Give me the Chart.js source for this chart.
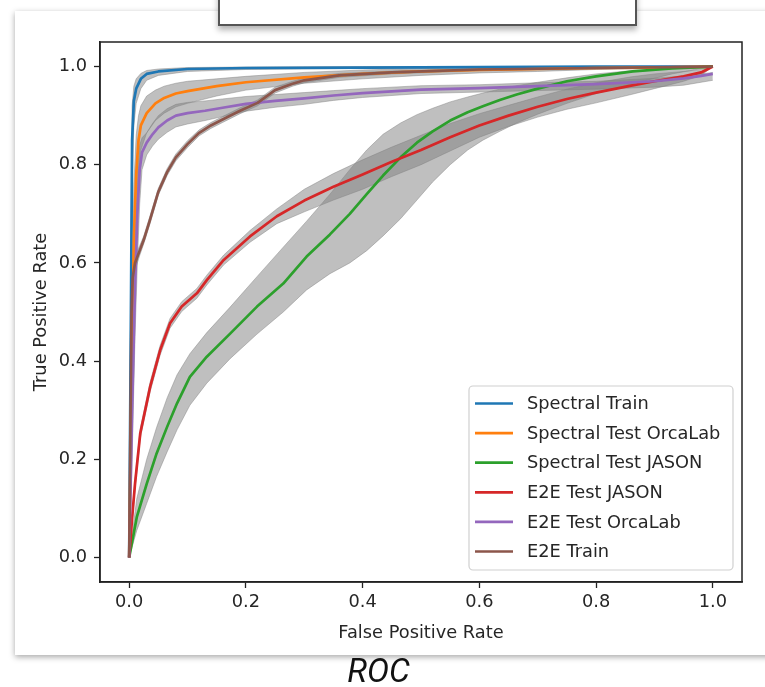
<!DOCTYPE html>
<html>
<head>
<meta charset="utf-8">
<script src="https://cdn.jsdelivr.net/npm/chart.js@4.4.1/dist/chart.umd.min.js"></script>
<style>
  html, body { margin: 0; padding: 0; background: #fff; }
  body { width: 765px; height: 687px; position: relative; overflow: hidden; }
  .card {
    position: absolute; left: 15px; top: 11px; width: 770px; height: 644px;
    background: #fff; box-shadow: 0 2px 6px rgba(0,0,0,0.35);
  }
  .topbox {
    position: absolute; left: 218px; top: -20px; width: 415px; height: 42px;
    background: #fff; border: 2px solid #555; box-shadow: 0 4px 6px rgba(0,0,0,0.3);
  }
  #roc { position: absolute; left: 0; top: 0; }
  .caption {
    position: absolute; left: 0; width: 757px; top: 651px; text-align: center;
    font: italic 33px Roboto, "Open Sans", sans-serif; color: #111;
  }
</style>
</head>
<body>
<div class="card"></div>
<div class="topbox"></div>
<canvas id="roc" width="765" height="660"></canvas>
<div class="caption">ROC</div>
<script>
// tick labels
const xTicks = [0, 0.2, 0.4, 0.6, 0.8, 1.0];
const yTicks = [0, 0.2, 0.4, 0.6, 0.8, 1.0];

const seriesNames = ['Spectral Train', 'Spectral Test OrcaLab', 'Spectral Test JASON',
                     'E2E Test JASON', 'E2E Test OrcaLab', 'E2E Train'];
const seriesColors = ['#1f77b4', '#ff7f0e', '#2ca02c', '#d62728', '#9467bd', '#8c564b'];

// Spectral Train
const specTrainFpr = [0, 0.003, 0.005, 0.008, 0.012, 0.02, 0.03, 0.05, 0.1, 0.2, 0.4, 0.6, 0.8, 1.0];
const specTrainTpr = [0, 0.5, 0.85, 0.93, 0.955, 0.975, 0.985, 0.99, 0.995, 0.997, 0.998, 0.999, 1.0, 1.0];
const specTrainHi  = [0, 0.62, 0.92, 0.96, 0.975, 0.986, 0.992, 0.995, 0.998, 0.999, 1, 1, 1, 1];
const specTrainLo  = [0, 0.4, 0.76, 0.88, 0.925, 0.955, 0.972, 0.982, 0.99, 0.994, 0.996, 0.998, 0.999, 1];

// Spectral Test OrcaLab
const specOrcaFpr = [0, 0.004, 0.008, 0.012, 0.016, 0.02, 0.03, 0.045, 0.06, 0.08, 0.1, 0.15, 0.2, 0.3, 0.4, 0.5, 0.6, 0.7, 0.8, 0.9, 1.0];
const specOrcaTpr = [0, 0.35, 0.65, 0.78, 0.85, 0.88, 0.905, 0.925, 0.936, 0.945, 0.95, 0.96, 0.968, 0.978, 0.985, 0.99, 0.993, 0.995, 0.997, 0.998, 1.0];
const specOrcaHi  = [0, 0.5, 0.76, 0.86, 0.9, 0.92, 0.94, 0.952, 0.96, 0.966, 0.97, 0.975, 0.98, 0.988, 0.993, 0.996, 0.997, 0.998, 0.999, 1, 1];
const specOrcaLo  = [0, 0.2, 0.52, 0.68, 0.78, 0.83, 0.865, 0.89, 0.905, 0.918, 0.925, 0.94, 0.952, 0.966, 0.975, 0.982, 0.987, 0.99, 0.994, 0.996, 1];

// Spectral Test JASON
const specJasonFpr = [0, 0.013, 0.03, 0.047, 0.065, 0.082, 0.104, 0.133, 0.173, 0.219, 0.264, 0.304, 0.344, 0.378, 0.407, 0.435, 0.465, 0.493, 0.52, 0.55, 0.58, 0.606, 0.635, 0.664, 0.7, 0.75, 0.8, 0.863, 0.93, 1.0];
const specJasonTpr = [0, 0.082, 0.15, 0.212, 0.266, 0.314, 0.368, 0.409, 0.456, 0.511, 0.558, 0.613, 0.658, 0.7, 0.74, 0.778, 0.815, 0.845, 0.868, 0.89, 0.907, 0.919, 0.932, 0.943, 0.955, 0.97, 0.98, 0.99, 0.996, 1.0];
const specJasonHi  = [0, 0.12, 0.2, 0.265, 0.325, 0.372, 0.415, 0.458, 0.51, 0.572, 0.632, 0.685, 0.74, 0.79, 0.83, 0.862, 0.885, 0.902, 0.915, 0.928, 0.938, 0.946, 0.954, 0.961, 0.968, 0.977, 0.985, 0.992, 0.997, 1.0];
const specJasonLo  = [0, 0.055, 0.11, 0.165, 0.215, 0.26, 0.31, 0.355, 0.405, 0.455, 0.5, 0.545, 0.578, 0.6, 0.625, 0.655, 0.69, 0.728, 0.765, 0.8, 0.83, 0.85, 0.868, 0.885, 0.903, 0.925, 0.945, 0.965, 0.985, 1.0];

// E2E Test JASON
const e2eJasonFpr = [0, 0.005, 0.01, 0.019, 0.036, 0.053, 0.07, 0.09, 0.116, 0.133, 0.162, 0.207, 0.253, 0.3, 0.35, 0.4, 0.45, 0.5, 0.55, 0.6, 0.65, 0.7, 0.75, 0.8, 0.86, 0.9, 0.95, 0.98, 1.0];
const e2eJasonTpr = [0, 0.08, 0.15, 0.253, 0.348, 0.422, 0.477, 0.511, 0.538, 0.565, 0.606, 0.654, 0.695, 0.727, 0.755, 0.78, 0.806, 0.83, 0.856, 0.88, 0.9, 0.918, 0.934, 0.947, 0.961, 0.97, 0.98, 0.988, 1.0];
const e2eJasonHi  = [0, 0.088, 0.16, 0.263, 0.358, 0.432, 0.487, 0.521, 0.548, 0.575, 0.616, 0.666, 0.71, 0.75, 0.782, 0.81, 0.836, 0.86, 0.884, 0.904, 0.921, 0.938, 0.954, 0.967, 0.979, 0.985, 0.99, 0.994, 1.0];
const e2eJasonLo  = [0, 0.072, 0.14, 0.243, 0.338, 0.412, 0.467, 0.501, 0.528, 0.555, 0.596, 0.642, 0.68, 0.704, 0.728, 0.75, 0.776, 0.8, 0.828, 0.856, 0.878, 0.897, 0.913, 0.926, 0.943, 0.955, 0.97, 0.982, 1.0];

// E2E Test OrcaLab
const e2eOrcaFpr = [0, 0.005, 0.01, 0.014, 0.018, 0.022, 0.03, 0.04, 0.05, 0.065, 0.08, 0.1, 0.13, 0.16, 0.2, 0.25, 0.3, 0.35, 0.4, 0.5, 0.6, 0.7, 0.8, 0.9, 0.95, 0.98, 1.0];
const e2eOrcaTpr = [0, 0.3, 0.55, 0.7, 0.79, 0.825, 0.845, 0.862, 0.876, 0.89, 0.9, 0.905, 0.91, 0.916, 0.924, 0.93, 0.935, 0.941, 0.946, 0.953, 0.956, 0.96, 0.964, 0.97, 0.976, 0.981, 0.985];
const e2eOrcaHi  = [0, 0.4, 0.65, 0.78, 0.84, 0.855, 0.865, 0.884, 0.9, 0.914, 0.923, 0.927, 0.93, 0.934, 0.939, 0.943, 0.947, 0.951, 0.955, 0.961, 0.963, 0.967, 0.97, 0.976, 0.981, 0.985, 0.988];
const e2eOrcaLo  = [0, 0.2, 0.45, 0.6, 0.72, 0.79, 0.82, 0.838, 0.852, 0.866, 0.877, 0.883, 0.89, 0.898, 0.909, 0.917, 0.923, 0.931, 0.937, 0.945, 0.948, 0.951, 0.954, 0.958, 0.962, 0.968, 0.972];

// E2E Train
const e2eTrainFpr = [0, 0.002, 0.004, 0.006, 0.01, 0.018, 0.025, 0.035, 0.05, 0.065, 0.08, 0.1, 0.12, 0.14, 0.16, 0.19, 0.22, 0.25, 0.28, 0.3, 0.36, 0.45, 0.6, 0.8, 1.0];
const e2eTrainTpr = [0, 0.25, 0.5, 0.57, 0.6, 0.625, 0.647, 0.685, 0.745, 0.785, 0.815, 0.842, 0.865, 0.88, 0.892, 0.91, 0.926, 0.952, 0.965, 0.972, 0.982, 0.988, 0.994, 0.997, 1.0];
const e2eTrainHi  = [0, 0.3, 0.54, 0.59, 0.615, 0.635, 0.655, 0.693, 0.752, 0.792, 0.822, 0.849, 0.871, 0.886, 0.898, 0.916, 0.932, 0.958, 0.97, 0.977, 0.986, 0.991, 0.996, 0.998, 1.0];
const e2eTrainLo  = [0, 0.2, 0.46, 0.55, 0.585, 0.615, 0.639, 0.677, 0.738, 0.778, 0.808, 0.835, 0.859, 0.874, 0.886, 0.904, 0.92, 0.946, 0.96, 0.967, 0.978, 0.985, 0.992, 0.996, 1.0];

const curves = [
  [specTrainFpr, specTrainTpr, specTrainHi, specTrainLo],
  [specOrcaFpr, specOrcaTpr, specOrcaHi, specOrcaLo],
  [specJasonFpr, specJasonTpr, specJasonHi, specJasonLo],
  [e2eJasonFpr, e2eJasonTpr, e2eJasonHi, e2eJasonLo],
  [e2eOrcaFpr, e2eOrcaTpr, e2eOrcaHi, e2eOrcaLo],
  [e2eTrainFpr, e2eTrainTpr, e2eTrainHi, e2eTrainLo],
];

const FONT = '"DejaVu Sans", sans-serif';
const INK = '#262626';

const pts = (xs, ys) => xs.map((x, i) => ({ x: x, y: ys[i] }));

const datasets = [];
// grey std bands, drawn under the lines
curves.forEach((c, i) => {
  const band = { backgroundColor: 'rgba(128,128,128,0.5)', borderColor: 'rgba(128,128,128,0.45)',
                 borderWidth: 1, pointRadius: 0, showLine: true, isBand: true, order: 20 + i };
  datasets.push(Object.assign({}, band, { data: pts(c[0], c[2]), fill: false }));
  datasets.push(Object.assign({}, band, { data: pts(c[0], c[3]), fill: '-1' }));
});
curves.forEach((c, i) => {
  datasets.push({
    label: seriesNames[i],
    data: pts(c[0], c[1]),
    borderColor: seriesColors[i],
    backgroundColor: seriesColors[i],
    borderWidth: 2.7,
    pointRadius: 0,
    showLine: true,
    fill: false,
    order: 10 - i,
  });
});

// frame around the plot (matplotlib spines)
const framePlugin = {
  id: 'frame',
  afterDatasetsDraw(chart) {
    const { ctx, chartArea: a } = chart;
    ctx.save();
    ctx.strokeStyle = '#222';
    ctx.lineWidth = 1.5;
    ctx.strokeRect(a.left, a.top, a.right - a.left, a.bottom - a.top);
    ctx.restore();
  }
};

// legend box in the lower right corner of the plot
const legendPlugin = {
  id: 'legendBox',
  afterDraw(chart) {
    const { ctx, chartArea: a } = chart;
    const lines = chart.data.datasets.filter(d => !d.isBand);
    const w = 264, h = 184;
    const x0 = a.right - 9 - w, y0 = a.bottom - 12 - h;
    ctx.save();
    ctx.beginPath();
    ctx.roundRect(x0, y0, w, h, 4);
    ctx.fillStyle = 'rgba(255,255,255,0.85)';
    ctx.fill();
    ctx.strokeStyle = '#d0d0d0';
    ctx.lineWidth = 1.2;
    ctx.stroke();
    ctx.font = '17.8px ' + FONT;
    ctx.textBaseline = 'middle';
    lines.forEach((d, i) => {
      const y = y0 + 17.5 + i * 29.6;
      ctx.strokeStyle = d.borderColor;
      ctx.lineWidth = 2.7;
      ctx.beginPath();
      ctx.moveTo(x0 + 6, y);
      ctx.lineTo(x0 + 44, y);
      ctx.stroke();
      ctx.fillStyle = INK;
      ctx.fillText(d.label, x0 + 58, y + 1);
    });
    ctx.restore();
  }
};

const axisCommon = (ticksArr, title) => ({
  type: 'linear',
  min: -0.05,
  max: 1.05,
  afterBuildTicks: s => { s.ticks = ticksArr.map(v => ({ value: v })); },
  grid: { drawOnChartArea: false, drawTicks: true, tickLength: 6, color: '#222', tickWidth: 1.3 },
  border: { display: true, color: '#222', width: 1.5 },
  ticks: { color: INK, font: { family: FONT, size: 17.8 }, callback: v => v.toFixed(1) },
  title: { display: true, text: title, color: INK, font: { family: FONT, size: 17.8 } },
});

const xAxis = axisCommon(xTicks, 'False Positive Rate');
xAxis.ticks.padding = 4;
xAxis.ticks.maxRotation = 0;
xAxis.title.padding = { top: 0, bottom: 4 };
xAxis.afterFit = s => { s.height = 66; };

const yAxis = axisCommon(yTicks, 'True Positive Rate');
yAxis.ticks.padding = 7;
yAxis.title.padding = { top: 1, bottom: 0 };
yAxis.afterFit = s => { s.width = 70; };

new Chart(document.getElementById('roc'), {
  type: 'scatter',
  data: { datasets: datasets },
  options: {
    responsive: false,
    animation: false,
    devicePixelRatio: 1,
    layout: { padding: { left: 30, right: 23, top: 42, bottom: 12 } },
    plugins: { legend: { display: false }, tooltip: { enabled: false } },
    elements: { line: { tension: 0, borderJoinStyle: 'round' } },
    scales: { x: xAxis, y: yAxis },
  },
  plugins: [framePlugin, legendPlugin],
});
</script>
</body>
</html>
